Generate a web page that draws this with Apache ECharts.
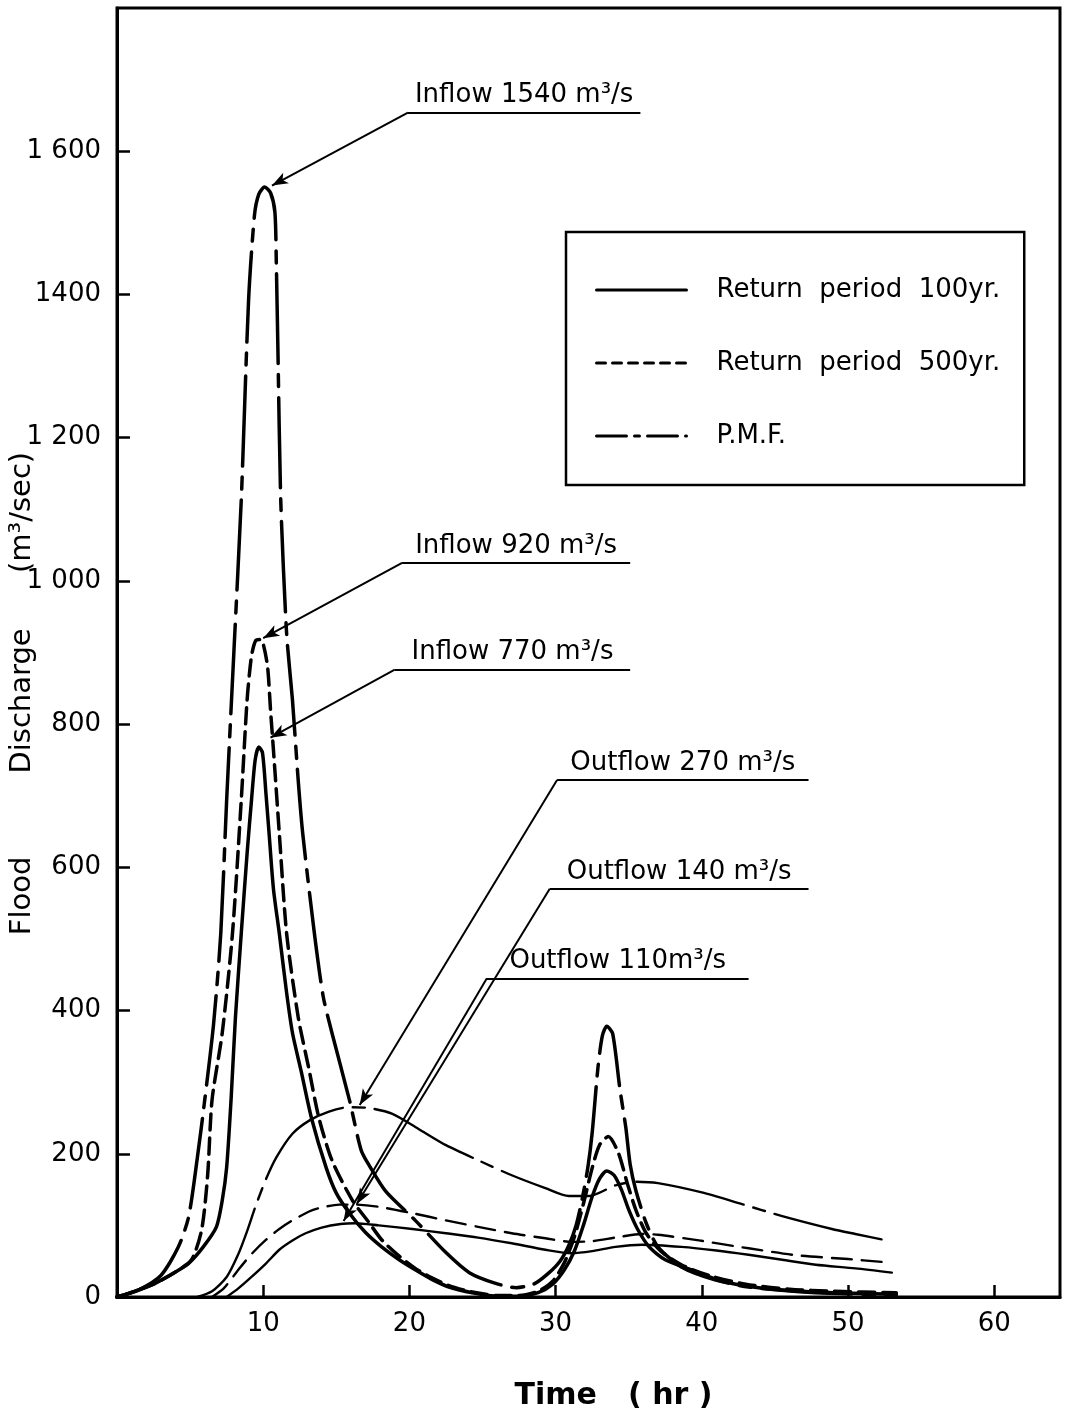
<!DOCTYPE html>
<html>
<head>
<meta charset="utf-8">
<title>Flood hydrographs</title>
<script src="https://cdn.jsdelivr.net/npm/echarts@6/dist/echarts.min.js"></script>
<style>
  html, body { margin: 0; padding: 0; background: #fff; }
  #chart { width: 1070px; height: 1417px; }
</style>
</head>
<body>
<div id="chart"></div>
<script>
// values: [time (hr), discharge (m3/s)]
const inflow100 = [
  [0, 0], [0.8, 5], [2.5, 18], [4, 35], [4.9, 47], [5.9, 70], [6.8, 98], [7.2, 135],
  [7.5, 181], [7.8, 275], [8.1, 390], [8.5, 508], [8.9, 620], [9.2, 694], [9.45, 750],
  [9.7, 768], [9.95, 760], [10.2, 700], [10.4, 648], [10.7, 570], [11.1, 508], [11.6, 425],
  [12.0, 369], [12.6, 315], [13.3, 250], [14.3, 181], [15.0, 145], [15.9, 117], [17.0, 90],
  [18.1, 70], [19.3, 52], [20.4, 38], [21.5, 25], [22.7, 14], [24.3, 6], [26.1, 1],
  [27.5, 1], [28.8, 6], [29.8, 18], [30.6, 38], [31.3, 65], [31.9, 100], [32.5, 140],
  [33.0, 165], [33.5, 176], [34.0, 170], [34.5, 150], [35.0, 122], [35.6, 95], [36.4, 70],
  [37.5, 52], [39.8, 34], [41.4, 22], [43.5, 14], [46.0, 9], [49.0, 6], [53.3, 4]
];
const inflow500 = [
  [0, 0], [0.8, 5], [2.5, 18], [4, 35], [5.1, 52], [5.8, 95], [6.2, 170], [6.5, 275],
  [7.2, 369], [7.9, 508], [8.5, 694], [8.9, 834], [9.2, 895], [9.5, 917], [9.8, 918],
  [10.0, 912], [10.3, 880], [10.5, 820], [10.7, 764], [11.1, 648], [11.6, 508], [12.4, 390],
  [13.1, 321], [13.8, 251], [14.7, 191], [16.1, 135], [17.2, 105], [18.1, 80], [19.3, 57],
  [20.4, 40], [21.5, 27], [22.7, 16], [24.3, 7], [26.1, 2], [27.5, 2], [28.8, 8],
  [29.8, 22], [30.6, 48], [31.3, 85], [31.9, 130], [32.5, 180], [33.0, 212], [33.6, 224],
  [34.3, 201], [34.9, 159], [35.5, 121], [36.2, 89], [37.2, 64], [38.6, 45], [40.5, 30],
  [43, 18], [46, 11], [49, 8], [53.3, 6]
];
const inflowPMF = [
  [0, 0], [1.5, 10], [3, 30], [4.2, 70], [4.9, 112], [5.5, 195], [6.0, 275], [6.6, 380],
  [7.1, 508], [7.5, 694], [8.0, 903], [8.5, 1113], [9.0, 1392], [9.4, 1510], [9.7, 1540],
  [10.1, 1550], [10.5, 1542], [10.8, 1515], [10.9, 1440], [11.0, 1330], [11.2, 1113],
  [11.6, 927], [12.0, 834], [12.4, 720], [12.7, 648], [13.5, 508], [14.1, 420], [14.7, 369],
  [15.9, 275], [16.7, 205], [17.3, 182], [18.4, 147], [20.4, 107], [22.5, 62], [24.1, 34],
  [25.9, 19], [27.3, 13], [28.5, 18], [29.5, 33], [30.3, 50], [30.9, 72], [31.4, 100],
  [31.8, 135], [32.2, 180], [32.5, 229], [32.9, 321], [33.2, 365], [33.5, 378], [33.9, 368],
  [34.4, 290], [34.8, 237], [35.1, 185], [35.5, 148], [36.2, 103], [37.0, 70], [38.6, 42],
  [40.9, 24], [43.2, 14], [47.8, 6], [53.3, 3]
];
const outflow100 = [
  [7.5, 0], [8.3, 12], [9.2, 28], [10.2, 47], [11.1, 66], [12.0, 79], [12.9, 89], [14.0, 97],
  [15.3, 102], [16.3, 103], [17.9, 100], [20.2, 95], [22.5, 89], [24.7, 83], [27, 75],
  [29.3, 66], [31.1, 61], [32.5, 64], [34.1, 70], [35.9, 73], [38.6, 70], [41, 65],
  [43.2, 59], [45.5, 52], [47.8, 45], [50.5, 40], [53.0, 34]
];
const outflow500 = [
  [6.5, 0], [7.3, 12], [8.3, 38], [9.2, 60], [10.2, 80], [11.1, 95], [12.0, 107], [13.1, 119],
  [13.8, 124], [15.2, 129], [16.3, 129], [17.9, 126], [20.2, 117], [22.5, 107], [24.7, 98],
  [27, 89], [29.3, 82], [31.1, 77], [32.5, 78], [34.1, 83], [35.9, 88], [37.0, 87],
  [39.8, 79], [43.2, 68], [46.6, 58], [50.0, 53], [52.3, 49]
];
const outflowPMF = [
  [5.5, 0], [6.5, 8], [7.5, 28], [8.3, 60], [8.9, 92], [9.5, 128], [10.2, 165], [10.9, 195],
  [12, 228], [13.2, 247], [14.5, 259], [15.8, 265], [17.2, 264], [18.8, 256], [20.6, 235],
  [22.5, 212], [24.7, 191], [27, 170], [29.3, 152], [30.9, 141], [32.3, 141], [34.1, 156],
  [35.5, 161], [37, 159], [40, 146], [42.7, 130], [45.5, 113], [48.9, 95], [50.5, 88],
  [52.4, 80]
];

const yTickValues = [0, 200, 400, 600, 800, 1000, 1200, 1400, 1600];
const yTickLabels = ['0', '200', '400', '600', '800', '1 000', '1 200', '1400', '1 600'];
const xTickLabels = ['10', '20', '30', '40', '50', '60'];
const scenarioNames = ['Return  period  100yr.', 'Return  period  500yr.', 'P.M.F.'];

// callouts: text, arrow tip on the curve, underline start, underline end
const inflowNotes = [
  { text: 'Inflow 1540 m³/s', tip: [10.6, 1552], from: [19.9, 1654], to: [35.8, 1654] },
  { text: 'Inflow 920 m³/s', tip: [10.0, 920], from: [19.5, 1025], to: [35.1, 1025] },
  { text: 'Inflow 770 m³/s', tip: [10.5, 781], from: [19.0, 876], to: [35.1, 876] }
];
const outflowNotes = [
  { text: 'Outflow 270 m³/s', tip: [16.6, 268], from: [30.1, 722], to: [47.3, 722] },
  { text: 'Outflow 140 m³/s', tip: [16.4, 130], from: [29.6, 570], to: [47.3, 570] },
  { text: 'Outflow 110m³/s', tip: [15.5, 106], from: [25.3, 445], to: [43.2, 445] }
];

const FONT = 'DejaVu Sans';
const INK = '#000';

function noteLines(note) {
  return [
    [
      { coord: note.tip, symbol: 'arrow', symbolSize: [9, 16], label: { show: false } },
      { coord: note.from, symbol: 'none' }
    ],
    [
      {
        coord: note.from, symbol: 'none',
        label: {
          show: true, position: 'insideMiddleTop', distance: 4, formatter: note.text,
          color: INK, fontFamily: FONT, fontSize: 26
        }
      },
      { coord: note.to, symbol: 'none' }
    ]
  ];
}

function curve(name, data, width, dash, note) {
  return {
    name: name,
    type: 'line',
    data: data,
    symbol: 'none',
    smooth: 0.25,
    lineStyle: { color: INK, width: width, type: dash, cap: 'round', join: 'round' },
    itemStyle: { color: INK },
    emphasis: { disabled: true },
    markLine: note ? {
      silent: true,
      symbol: ['none', 'none'],
      lineStyle: { color: INK, width: 2, type: 'solid' },
      data: noteLines(note)
    } : undefined
  };
}

const dashPMFIn = [90, 11, 12, 11];
const dashPMFOut = [110, 10, 12, 10];

const option = {
  animation: false,
  backgroundColor: '#fff',
  grid: {
    left: 117, right: 10, top: 8, bottom: 120,
    outerBoundsMode: 'none',
    containLabel: false,
    show: true, borderColor: INK, borderWidth: 3
  },
  legend: {
    orient: 'vertical',
    left: 566, top: 232,
    itemWidth: 90, itemHeight: 20, itemGap: 43,
    padding: [43, 24, 34, 29],
    borderColor: INK, borderWidth: 2.5,
    selectedMode: false,
    itemStyle: { color: 'rgba(0,0,0,0)', borderColor: 'rgba(0,0,0,0)', borderWidth: 0 },
    textStyle: { color: INK, fontFamily: FONT, fontSize: 26, lineHeight: 30, padding: [0, 0, 0, 25] },
    data: [
      { name: scenarioNames[0], lineStyle: { width: 3, type: 'solid' } },
      { name: scenarioNames[1], lineStyle: { width: 3, type: [9, 7] } },
      { name: scenarioNames[2], lineStyle: { width: 3, type: [30, 8, 5, 8] } }
    ]
  },
  xAxis: {
    type: 'value',
    min: 0, max: 64.5, interval: 10,
    name: 'Time   ( hr )',
    nameLocation: 'middle',
    nameGap: 84,
    nameMoveOverlap: false,
    nameTextStyle: { color: INK, fontFamily: FONT, fontSize: 30, fontWeight: 'bold', padding: [0, 0, 0, 50] },
    axisLine: { lineStyle: { color: INK, width: 3 } },
    axisTick: { inside: true, length: 12, lineStyle: { color: INK, width: 2.5 } },
    splitLine: { show: false },
    axisLabel: {
      color: INK, fontFamily: FONT, fontSize: 26, margin: 14,
      showMinLabel: false, showMaxLabel: false,
      formatter: v => xTickLabels[v / 10 - 1] || ''
    }
  },
  yAxis: {
    type: 'value',
    min: 0, max: 1800, interval: 200,
    name: 'Flood         Discharge      (m³/sec)',
    nameLocation: 'middle',
    nameRotate: 90,
    nameGap: 80,
    nameMoveOverlap: false,
    nameTextStyle: { color: INK, fontFamily: FONT, fontSize: 29, padding: [0, 82, 0, 0] },
    axisLine: { lineStyle: { color: INK, width: 3 } },
    axisTick: { inside: true, length: 13, lineStyle: { color: INK, width: 2.5 } },
    splitLine: { show: false },
    axisLabel: {
      color: INK, fontFamily: FONT, fontSize: 26, margin: 16,
      showMaxLabel: false,
      formatter: v => {
        const i = yTickValues.indexOf(v);
        return i >= 0 ? yTickLabels[i] : '';
      }
    }
  },
  series: [
    curve(scenarioNames[0], inflow100, 3.5, 'solid', inflowNotes[2]),
    curve(scenarioNames[1], inflow500, 3.5, [16, 8], inflowNotes[1]),
    curve(scenarioNames[2], inflowPMF, 3.5, dashPMFIn, inflowNotes[0]),
    curve(scenarioNames[0], outflow100, 2.4, 'solid', outflowNotes[2]),
    curve(scenarioNames[1], outflow500, 2.4, [20, 10], outflowNotes[1]),
    curve(scenarioNames[2], outflowPMF, 2.4, dashPMFOut, outflowNotes[0])
  ]
};

const chart = echarts.init(document.getElementById('chart'), null, { renderer: 'canvas' });
chart.setOption(option);
</script>
</body>
</html>
